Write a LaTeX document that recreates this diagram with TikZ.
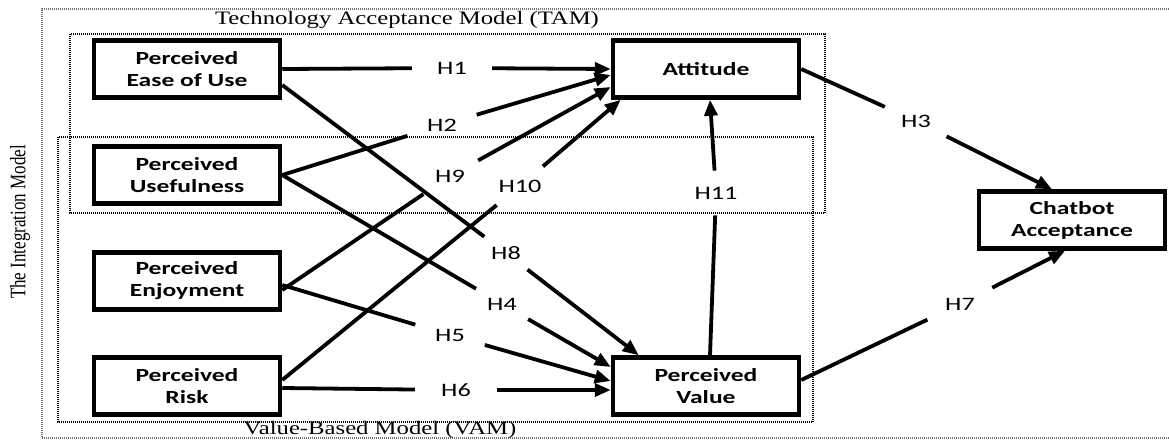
\documentclass[tikz,border=0pt]{standalone}
\usepackage{fontspec}
\setmainfont{Liberation Serif}
\newfontfamily\boxfont[FakeStretch=1.38]{Carlito}
\newfontfamily\capfont[FakeStretch=1.3]{Liberation Serif}
\usetikzlibrary{arrows.meta}
\begin{document}
\begin{tikzpicture}[x=1pt,y=-1pt,
  box/.style={draw, line width=4.5pt, minimum width=186pt, minimum height=57pt, inner sep=0pt, align=center,
    font=\boxfont\bfseries\fontsize{18.5}{22}\selectfont},
  gap/.style={circle, inner sep=0pt, font=\boxfont\fontsize{19}{20}\selectfont},
  conn/.style={line width=3.8pt},
  arr/.style={conn, -{Triangle[length=16pt,width=13pt]}},
  dotbox/.style={line width=1.3pt, dash pattern=on 1pt off 1pt},
  captext/.style={font=\capfont\fontsize{19}{20}\selectfont, inner sep=0pt}]
\useasboundingbox (0,0) rectangle (1169,440);

% frames
\draw[dotbox, black!55] (1169,9) -- (42,9) -- (42,438) -- (1169,438);
\draw[dotbox] (70,34) rectangle (825,213);
\draw[dotbox] (58,137) rectangle (813,422);
\node[captext] (tam) at (407,20) {Technology Acceptance Model (TAM)};
\node[captext] (vam) at (380,430) {Value-Based Model (VAM)};
\node[rotate=90, inner sep=0pt, font=\rmfamily\fontsize{17}{18}\selectfont] (integ) at (20,222)
  {\scalebox{1}[1.3]{The Integration Model}};

% boxes
\node[box] (peu) at (187,69) {Perceived\\Ease of Use};
\node[box] (pu) at (187,175) {Perceived\\Usefulness};
\node[box] (pe) at (187,281) {Perceived\\Enjoyment};
\node[box] (pr) at (187,386) {Perceived\\Risk};
\node[box] (att) at (706,69) {Attitude};
\node[box] (pv) at (706,386) {Perceived\\Value};
\node[box] (ca) at (1072,220) {Chatbot\\Acceptance};

% gap labels
\node[gap, minimum size=80pt] (g1) at (452,68) {H1};
\node[gap, minimum size=72pt] (g2) at (442,125) {H2};
\node[gap, minimum size=64pt] (g9) at (450,176) {H9};
\node[gap, minimum size=60pt] (g10) at (520,186) {H10};
\node[gap, minimum size=54pt] (g8) at (506,253) {H8};
\node[gap, minimum size=60pt] (g4) at (502,304) {H4};
\node[gap, minimum size=72pt] (g5) at (450,335) {H5};
\node[gap, minimum size=82pt] (g6) at (456,390) {H6};
\node[gap, minimum size=40pt] (g11) at (716,193) {H11};
\node[gap, minimum size=68pt] (g3) at (916,121) {H3};
\node[gap, minimum size=72pt] (g7) at (960,304) {H7};

% connectors
\draw[conn] (peu.east) -- (g1);  \draw[arr] (g1) -- (att.west);
\draw[conn] (pu.east) -- (g2);   \draw[arr] (g2) -- ([yshift=-6pt]att.west);
\draw[conn] ([yshift=-9pt]pe.east) -- (g9); \draw[arr] (g9) -- ([yshift=-18pt]att.west);
\draw[conn] ([yshift=6pt]pr.east) -- (g10); \draw[arr] (g10) -- ([xshift=10pt]att.south west);
\draw[conn] ([yshift=-16pt]peu.east) -- (g8); \draw[arr] (g8) -- ([xshift=28pt]pv.north west);
\draw[conn] (pu.east) -- (g4);   \draw[arr] (g4) -- ([yshift=19pt]pv.west);
\draw[conn] ([yshift=-4pt]pe.east) -- (g5); \draw[arr] (g5) -- ([yshift=5pt]pv.west);
\draw[conn] ([yshift=-2pt]pr.east) -- (g6); \draw[arr] (g6) -- ([yshift=-4pt]pv.west);
\draw[conn] ([xshift=4pt]pv.north) -- (g11); \draw[arr] (g11) -- ([xshift=4pt]att.south);
\draw[conn] (att.east) -- (g3);  \draw[arr] (g3) -- ([xshift=-20pt]ca.north);
\draw[conn] ([yshift=6pt]pv.east) -- (g7); \draw[arr] (g7) -- ([xshift=-7pt]ca.south);
\end{tikzpicture}
\end{document}
